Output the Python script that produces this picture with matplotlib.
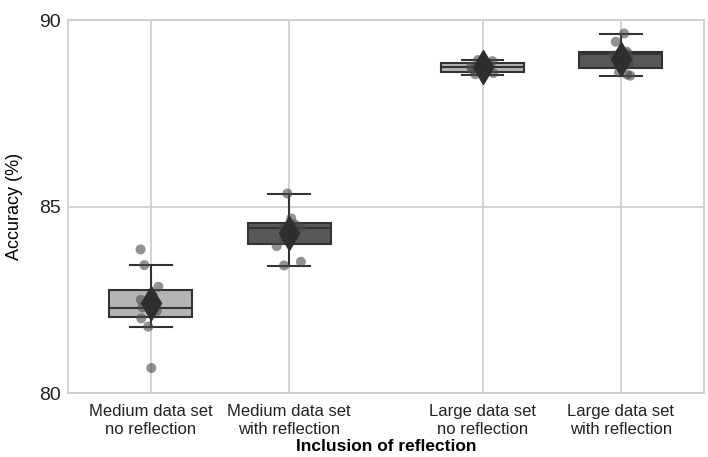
import numpy as np
import matplotlib
matplotlib.use("Agg")
import matplotlib.pyplot as plt

plt.rcParams["font.family"] = ["Liberation Sans", "DejaVu Sans"]

labels = ["Medium data set\nno reflection", "Medium data set\nwith reflection",
          "Large data set\nno reflection", "Large data set\nwith reflection"]
positions = [0, 1, 2.4, 3.4]

# box statistics (%)
q1 = [82.03, 83.99, 88.62, 88.72]
med = [82.27, 84.43, 88.74, 89.08]
q3 = [82.76, 84.55, 88.85, 89.15]
whislo = [81.78, 83.41, 88.54, 88.51]
whishi = [83.43, 85.35, 88.93, 89.64]
means = [82.42, 84.28, 88.73, 88.97]

# individual runs
pts_med_noref = [83.85, 83.43, 82.85, 82.6, 82.5, 82.45, 82.35, 82.3, 82.2,
                 82.0, 81.78, 80.67]
pts_med_ref = [85.35, 84.68, 84.52, 84.45, 84.4, 84.3, 84.2, 84.1, 83.94,
               83.52, 83.42]
pts_large_noref = [88.93, 88.9, 88.85, 88.8, 88.78, 88.75, 88.72, 88.7,
                   88.68, 88.62, 88.58, 88.55]
pts_large_ref = [89.64, 89.42, 89.15, 89.1, 89.05, 89.0, 88.95, 88.9, 88.85,
                 88.6, 88.54, 88.51]
points = [pts_med_noref, pts_med_ref, pts_large_noref, pts_large_ref]

face = ["#b4b4b4", "#585858", "#b4b4b4", "#585858"]
edge = "#333333"

fig = plt.figure(figsize=(7.08, 4.57), dpi=100)
ax = fig.add_axes([0.096, 0.140, 0.898, 0.816])

stats = [dict(q1=q1[i], med=med[i], q3=q3[i], whislo=whislo[i],
              whishi=whishi[i], mean=means[i], fliers=[])
         for i in range(4)]
bp = ax.bxp(stats, positions=positions, widths=0.6, patch_artist=True,
            showmeans=False, showfliers=False,
            boxprops=dict(edgecolor=edge, linewidth=1.5),
            medianprops=dict(color=edge, linewidth=1.5),
            whiskerprops=dict(color=edge, linewidth=1.5),
            capprops=dict(color=edge, linewidth=1.5))
for patch, c in zip(bp["boxes"], face):
    patch.set_facecolor(c)
for artists in bp.values():
    for a in artists:
        a.set_zorder(2)

# jitter for the strip of runs (display only)
rng = np.random.default_rng(3)
for pos, vals in zip(positions, points):
    jit = rng.uniform(-0.09, 0.09, len(vals))
    ax.scatter(pos + jit, vals, s=52, color="#4a4a4a", alpha=0.6,
               edgecolors="none", zorder=3)

ax.plot(positions, means, linestyle="none", marker="d", markersize=17,
        color="#2e2e2e", zorder=4)

ax.set_xlim(-0.6, 4.0)
ax.set_ylim(80, 90)
ax.set_yticks([80, 85, 90])
ax.set_xticks(positions)
ax.set_xticklabels(labels, fontsize=12, color="#222222")
ax.tick_params(axis="y", labelsize=14, pad=5, labelcolor="#222222")
ax.tick_params(axis="x", pad=8)
ax.tick_params(length=0)
ax.grid(True, color="#cccccc", linewidth=1.2, zorder=0)
ax.set_axisbelow(True)
for s in ax.spines.values():
    s.set_color("#cccccc")
    s.set_linewidth(1.2)

ax.set_ylabel("Accuracy (%)", fontsize=13, labelpad=12)
ax.set_xlabel("Inclusion of reflection", fontsize=12.5, fontweight="bold",
              labelpad=2)

fig.savefig("out.png", dpi=100)
